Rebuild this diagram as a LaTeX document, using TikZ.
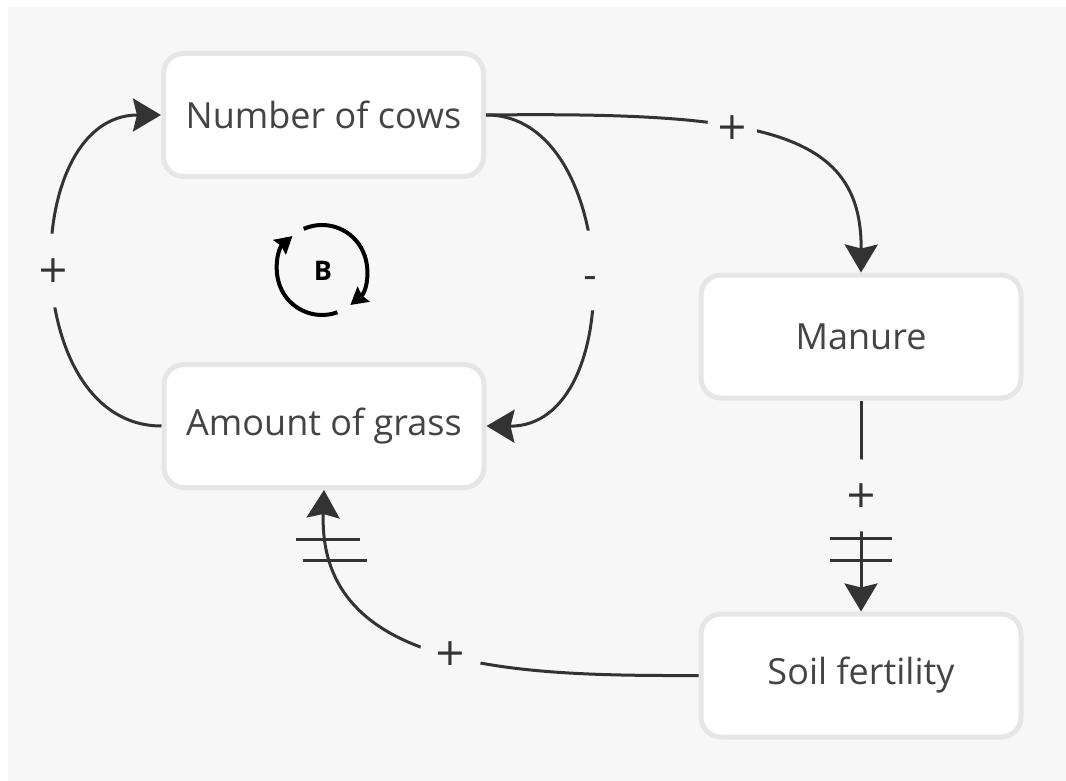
\documentclass[tikz,border=0pt]{standalone}
\usepackage{fontspec}
\setmainfont{Open Sans}
\newfontfamily\signfont{DejaVu Sans}
\usetikzlibrary{arrows.meta}
\definecolor{bg}{HTML}{F7F7F7}
\definecolor{boxline}{HTML}{E6E6E6}
\definecolor{ink}{HTML}{333333}
\definecolor{txt}{HTML}{444444}
\tikzset{
  varbox/.style={rectangle, rounded corners=20pt, fill=white, draw=boxline,
    line width=5pt, minimum width=320pt, minimum height=123pt,
    text=txt, font=\fontsize{36}{40}\selectfont},
  link/.style={draw=ink, line width=3pt,
    -{Stealth[length=28pt, width=33pt, inset=4pt]}},
  sign/.style={fill=bg, circle, inner sep=0pt, text=ink,
    font=\signfont\fontsize{38}{40}\selectfont},
  delay/.style={draw=ink, line width=3pt},
  loopline/.style={draw=black, line width=4pt,
    -{Stealth[length=17pt, width=19pt, inset=2pt]}}
}
\begin{document}
\begin{tikzpicture}[x=1pt, y=-1pt]
  % canvas
  \fill[white] (0,0) rectangle (1066,781);
  \fill[bg] (8,7) rectangle (1066,781);
  \useasboundingbox (0,0) rectangle (1066,781);

  % variables
  \node[varbox] (cows)   at (323.5,115)   {Number of cows};
  \node[varbox] (grass)  at (324,426)     {Amount of grass};
  \node[varbox] (manure) at (861,336.5)   {Manure};
  \node[varbox] (soil)   at (861,675.5)   {Soil fertility};

  % causal links
  \draw[link] (cows.east) .. controls (760,112) and (862,130) .. (manure.north)
    node[sign, pos=0.39, minimum size=50pt] (s1) {+};
  \draw[link] (cows.east) .. controls (620,114) and (630,427) .. (grass.east)
    node[sign, pos=0.5, minimum size=80pt, text height=40pt, text depth=4pt] (s2) {-};
  \draw[link] (grass.west) .. controls (18,426) and (18,115) .. (cows.west)
    node[sign, pos=0.5, minimum size=74pt] (s3) {+};
  \draw[link] (manure.south) -- (soil.north)
    node[sign, pos=0.45, minimum size=72pt] (s4) {+}
    coordinate[pos=0.655] (d4a) coordinate[pos=0.76] (d4b);
  \draw[link] (soil.west) .. controls (520,676) and (318,672) .. (grass.south)
    node[sign, pos=0.48, minimum size=62pt] (s5) {+}
    coordinate[pos=0.85] (d5a) coordinate[pos=0.9] (d5b);

  % delay marks
  \draw[delay] (d4a) ++(-31,0) -- ++(62,0);
  \draw[delay] (d4b) ++(-31,0) -- ++(62,0);
  \draw[delay] (d5a) ++(-32,0) -- ++(64,0);
  \draw[delay] (d5b) ++(-32,0) -- ++(64,0);

  % balancing loop marker
  \coordinate (loopc) at (322,270);
  \draw[loopline] (loopc) ++(-114:45) arc[start angle=-114, end angle=51, radius=45];
  \draw[loopline] (loopc) ++(70:45) arc[start angle=70, end angle=229, radius=45];
  \node[font=\bfseries\fontsize{27}{30}\selectfont, text=black] (loopB) at (323,271) {B};
\end{tikzpicture}
\end{document}
